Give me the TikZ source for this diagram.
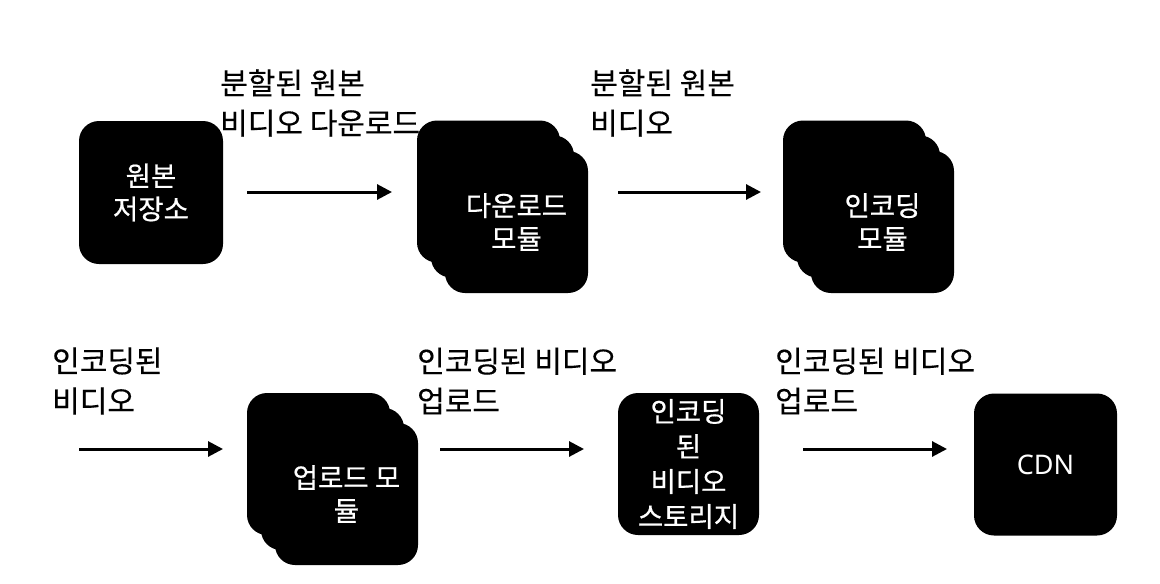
\documentclass[tikz,border=0pt]{standalone}
\usepackage{fontspec}
\setmainfont{Noto Sans CJK KR}
\newfontfamily\boxfont[FakeBold=0.6]{Noto Sans CJK KR}
\newfontfamily\lblfont[FakeBold=0.3]{Noto Sans CJK KR}
\newfontfamily\latfont{Noto Sans}
\usetikzlibrary{arrows.meta}
\begin{document}
\begin{tikzpicture}[x=1pt,y=-1pt,
 box/.style={fill=black, rounded corners=20pt, minimum width=143pt, minimum height=142pt, inner sep=0pt, text=white, align=center, font=\boxfont\fontsize{27.5}{33}\selectfont},
 lbl/.style={anchor=west, align=left, inner sep=0pt, font=\lblfont\fontsize{30}{40}\selectfont},
 flow/.style={line width=3pt, -{Triangle[length=15pt,width=15pt]}}]
\useasboundingbox (0,0) rectangle (1160,584);
% top row
\node[box, minimum width=144pt, minimum height=143pt] (src) at (151,192.5) {원본\\저장소};
\node[box] (dlA) at (488.5,191.5) {};
\node[box] (dlB) at (502.5,206.5) {};
\node[box] (dlC) at (516.5,222) {다운로드\\모듈};
\node[box] (encA) at (854.5,191.5) {};
\node[box] (encB) at (868.5,206.5) {};
\node[box] (encC) at (882.5,222) {인코딩\\모듈};
% bottom row
\node[box] (upA) at (318.5,464) {};
\node[box] (upB) at (332.5,479) {};
\node[box] (upC) at (346.5,494) {업로드 모\\듈};
\node[box, minimum width=141pt, font=\boxfont\fontsize{27.5}{35}\selectfont] (sto) at (688.5,464) {인코딩~\\된\\비디오\\스토리지};
\node[box, font=\latfont\fontsize{27}{33}\selectfont] (cdn) at (1045.5,464.5) {CDN};
% labels
\node[lbl] (l1) at (220,103) {분할된 원본\\비디오 다운로드};
\node[lbl] (l2) at (590,103) {분할된 원본\\비디오};
\node[lbl] (l3) at (52,381) {인코딩된\\비디오};
\node[lbl] (l4) at (417,381) {인코딩된 비디오\\업로드};
\node[lbl] (l5) at (775,381) {인코딩된 비디오\\업로드};
% arrow ends
\coordinate (a1s) at (247,192); \coordinate (a1e) at (392,192);
\coordinate (a2s) at (618,192); \coordinate (a2e) at (761,192);
\coordinate (a3s) at (79,449);  \coordinate (a3e) at (223,449);
\coordinate (a4s) at (440,449); \coordinate (a4e) at (584,449);
\coordinate (a5s) at (803,449); \coordinate (a5e) at (947,449);
\draw[flow] (a1s) -- (a1e);
\draw[flow] (a2s) -- (a2e);
\draw[flow] (a3s) -- (a3e);
\draw[flow] (a4s) -- (a4e);
\draw[flow] (a5s) -- (a5e);
\end{tikzpicture}
\end{document}
